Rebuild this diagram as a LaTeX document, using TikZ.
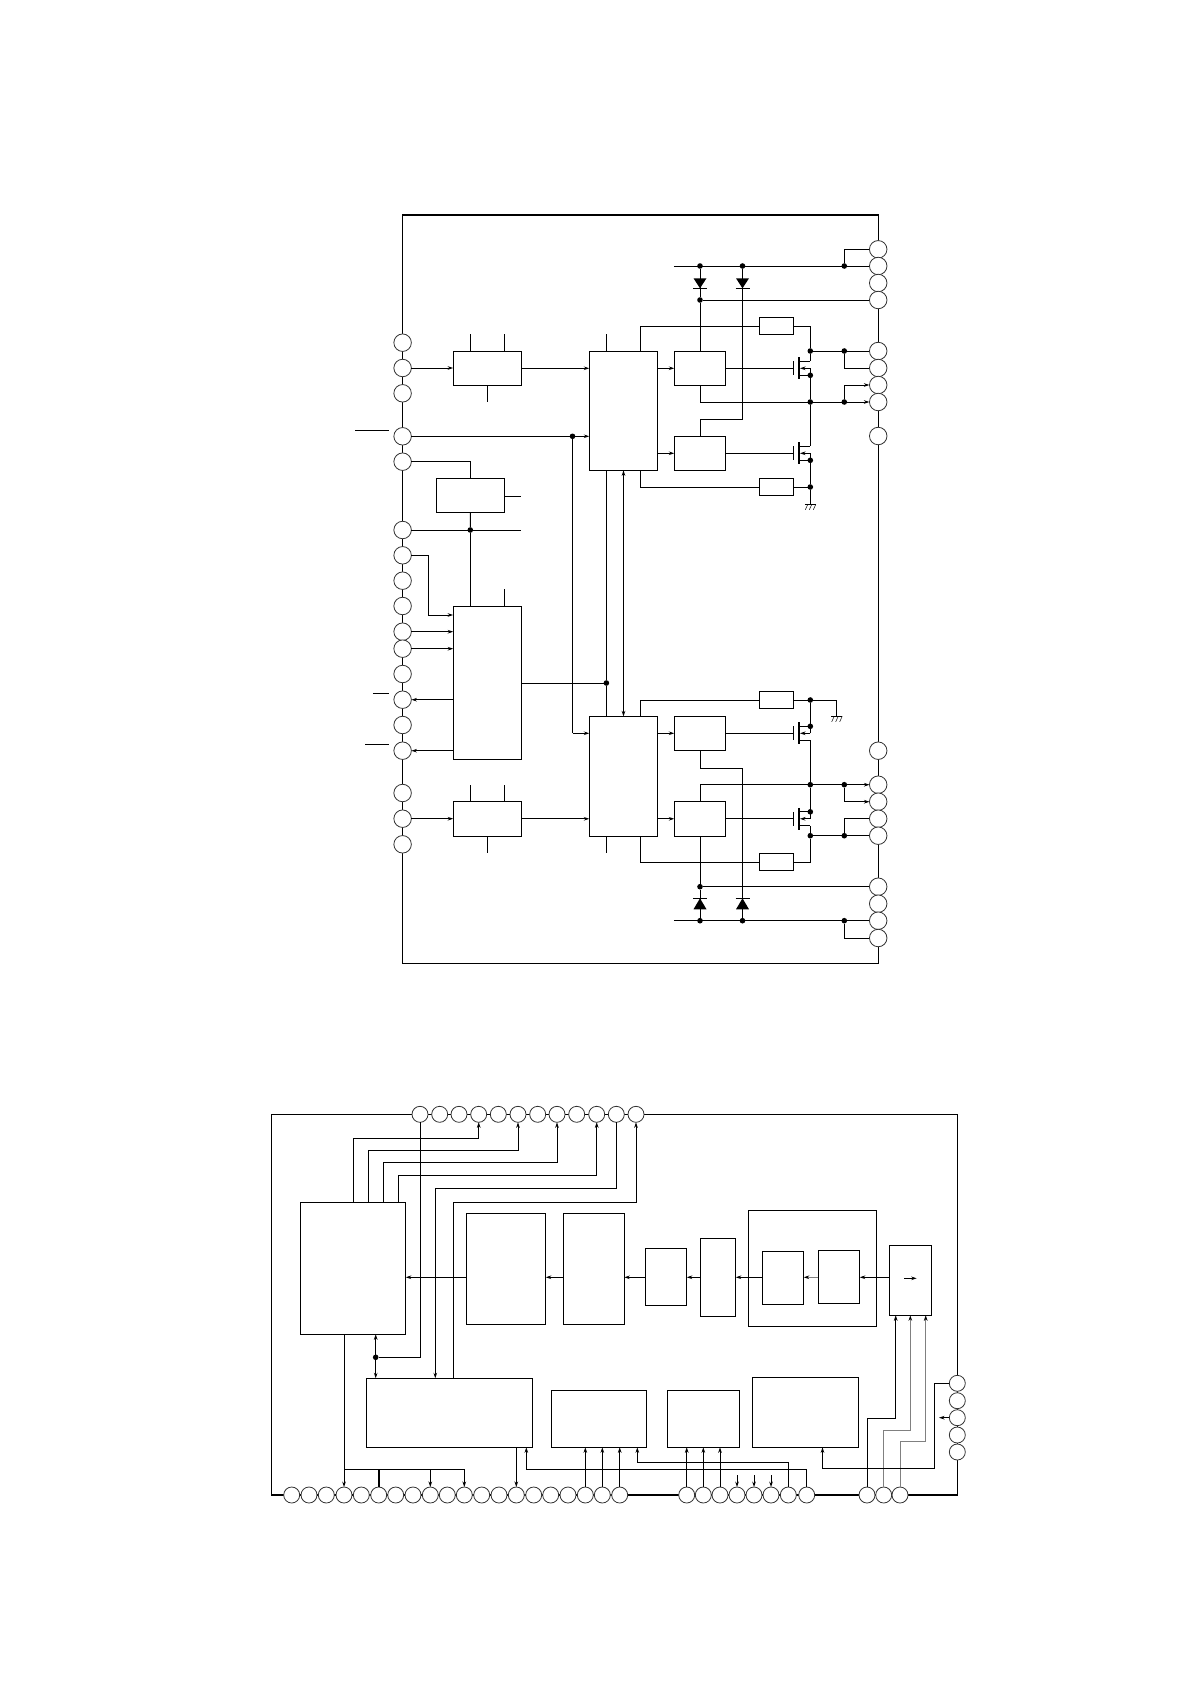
\documentclass[tikz,border=0pt]{standalone}
\usetikzlibrary{arrows.meta,calc}
\tikzset{
  x=1pt,y=-1pt,
  wire/.style={line width=1pt,draw=black},
  thinw/.style={line width=0.8pt,draw=black},
  gwire/.style={line width=1pt,draw=black!50},
  arr/.style={wire,-{Stealth[length=5.5pt,width=3.6pt]}},
  garr/.style={gwire,-{Stealth[length=5.5pt,width=3.6pt,black]}},
  darr/.style={wire,{Stealth[length=5.5pt,width=3.6pt]}-{Stealth[length=5.5pt,width=3.6pt]}},
  blk/.style={draw=black,line width=1pt,fill=white,rectangle,inner sep=0pt,outer sep=0pt},
  frm/.style={draw=black,line width=1pt,rectangle,inner sep=0pt,outer sep=0pt},
  pinA/.style={circle,draw=black!80,fill=white,line width=0.8pt,minimum size=17.5pt,inner sep=0pt,outer sep=0pt},
  pinB/.style={circle,draw=black!80,fill=white,line width=0.8pt,minimum size=16pt,inner sep=0pt,outer sep=0pt},
  jdot/.style={circle,fill=black,minimum size=5.6pt,inner sep=0pt,outer sep=0pt},
}
\newcommand{\bx}[5]{\node[blk,minimum width={(#4-#2)*1pt},minimum height={(#5-#3)*1pt}] (#1) at ({(#2+#4)/2},{(#3+#5)/2}) {};}
\newcommand{\jd}[3]{\node[jdot] (#1) at (#2,#3) {};}
\newcommand{\mosf}[3]{%
  \coordinate (#1t) at (810.3,{#2-7});
  \coordinate (#1b) at (810.3,{#2+7});
  \coordinate (#1g) at (793.3,#2);
  \draw[wire] (793.3,{#2-7}) -- (793.3,{#2+7});
  \draw[line width=1.8pt] (799,{#2-11}) -- (799,{#2+11});
  \draw[wire] (799,{#2-7}) -- (#1t);
  \draw[wire] (799,{#2+7}) -- (#1b);
  \draw[wire] (810.3,{#2+#3*7}) -- (810.3,#2);
  \draw[arr] (810.3,#2) -- (800,#2);
}
\newcommand{\gnd}[2]{%
  \draw[thinw] ({#1-5.5},#2) -- ({#1+5.5},#2);
  \foreach \k in {-4,0,4} \draw[line width=0.5pt] ({#1+\k+1.5},#2) -- ({#1+\k-1},{#2+5.5});
}
% x, top-of-triangle y, base y ; triangle points from first y to the second, bar at second
\newcommand{\diod}[3]{%
  \fill[black] ({#1-6.5},#2) -- ({#1+6.5},#2) -- (#1,#3) -- cycle;
  \draw[thinw] ({#1-7},#3) -- ({#1+7},#3);
}
\begin{document}
\begin{tikzpicture}
\useasboundingbox (0,0) rectangle (1190,1684);
\fill[white] (0,0) rectangle (1190,1684);

%===== upper diagram =====
\node[frm,minimum width=475.6pt,minimum height=748.5pt] (F1) at (640.4,589.05) {};
\draw[line width=2pt] (F1.north west) -- (F1.north east);

\foreach \y [count=\i] in {342.7,368,393.3,436.3,461.7,530,555.3,580.7,606,631.7,648.7,674,699.7,725,750.7,793,818.7,844.3}
  \node[pinA] (L\i) at (402.6,\y) {};
\foreach \y [count=\i] in {249.3,266,283,300,351,368,385,402,436,750.7,784.7,801.7,818.7,835.7,886.7,903.7,920.7,938}
  \node[pinA] (P\i) at (878.2,\y) {};

\bx{B1}{453.2}{351.3}{521.8}{385.3}
\bx{B2}{589.3}{351.3}{657.5}{470.3}
\bx{B3}{674.3}{351.3}{725.7}{385.3}
\bx{B4}{674.3}{436.3}{725.7}{470.3}
\bx{Ra}{759.2}{317.3}{793.5}{334.7}
\bx{Rb}{759.2}{478.3}{793.5}{495.7}
\bx{B5}{436.4}{478.3}{504.6}{512.7}
\bx{B6}{453.2}{606.3}{521.8}{759.3}
\bx{B7}{453.2}{801.3}{521.8}{836.3}
\bx{B8}{589.3}{716.3}{657.5}{836.3}
\bx{B9}{674.3}{716.3}{725.7}{750.3}
\bx{B10}{674.3}{801.3}{725.7}{836.3}
\bx{Rc}{759.2}{691.3}{793.5}{708.7}
\bx{Rd}{759.2}{853.3}{793.5}{870.7}

\jd{dA}{700}{266}
\jd{dB}{742.5}{266}
\jd{dC}{844.3}{266}
\jd{dD}{700}{300}
\jd{dE}{810.3}{351}
\jd{dF}{844.3}{351}
\jd{dG}{810.3}{375.3}
\jd{dH}{810.3}{402}
\jd{dI}{844.3}{402}
\jd{dJ}{810.3}{460.3}
\jd{dK}{810.3}{487}
\jd{dL}{572.5}{436.3}
\jd{dM}{470.3}{530}
\jd{dN}{606.4}{683}
\jd{dO}{810.3}{700}
\jd{dP}{810.3}{726.3}
\jd{dQ}{810.3}{784.7}
\jd{dR}{844.3}{784.7}
\jd{dS}{810.3}{811.8}
\jd{dT}{810.3}{835.7}
\jd{dU}{844.3}{835.7}
\jd{dV}{700}{886.7}
\jd{dW}{700}{920.7}
\jd{dX}{742.5}{920.7}
\jd{dY}{844.3}{920.7}

\mosf{Ma}{368.3}{1}
\mosf{Mb}{453.3}{1}
\mosf{Mc}{733.3}{-1}
\mosf{Md}{818.8}{-1}

% free ends
\coordinate (e1) at (673.9,266);
\coordinate (e2) at (673.9,920.7);
\coordinate (g1) at (810.3,504.3);
\coordinate (g2) at (836.7,716.3);
\coordinate (o1) at (355,430.3);  \coordinate (o1b) at (388.6,430.3);
\coordinate (o2) at (372.9,693.3);\coordinate (o2b) at (388.6,693.3);
\coordinate (o3) at (365,744.3);  \coordinate (o3b) at (388.6,744.3);

% overbars
\draw[wire] (o1) -- (o1b);
\draw[wire] (o2) -- (o2b);
\draw[wire] (o3) -- (o3b);

% stubs
\draw[wire] (470.3,334.3) -- (470.3,0 |- B1.north);
\draw[wire] (504.6,334.3) -- (504.6,0 |- B1.north);
\draw[wire] (B1.south) -- (487.5,402);
\draw[wire] (606.4,334.3) -- (606.4,0 |- B2.north);
\draw[wire] (504.6,589) -- (504.6,0 |- B6.north);
\draw[wire] (470.3,785) -- (470.3,0 |- B7.north);
\draw[wire] (504.6,785) -- (504.6,0 |- B7.north);
\draw[wire] (B7.south) -- (487.5,852.7);
\draw[wire] (606.4,0 |- B8.south) -- (606.4,852.7);

% signal path, upper half
\draw[arr] (L2.east) -- (L2.east -| B1.west);
\draw[arr] (B1.east) -- (B1.east -| B2.west);
\draw[arr] (B3.west -| B2.east) -- (B3.west);
\draw[arr] (B4.west -| B2.east) -- (B4.west);
\draw[arr] (L4.east) -- (L4.east -| B2.west);
\draw[wire] (B3.east) -- (Mag);
\draw[wire] (B4.east) -- (Mbg);

% supply and diodes
\draw[wire] (e1) -- (P2.west);
\draw[wire] (dC) |- (P1.west);
\draw[wire] (dD) -- (P4.west);
\draw[wire] (dA) -- (dD);
\draw[wire] (dD) -- (dD |- B3.north);
\diod{700}{278.3}{288.3}
\diod{742.5}{278.3}{288.3}
\draw[wire] (dB) -- (742.5,419.3) -| (B4.north);

% power stage
\draw[wire] (640.7,0 |- B2.north) |- (Ra.west);
\draw[wire] (Ra.east) -| (dE);
\draw[wire] (dE) -- (P5.west);
\draw[wire] (dE) -- (Mat);
\draw[wire] (dF) |- (P6.west);
\draw[wire] (Mab) -- (dG) -- (dH) -- (Mbt);
\draw[wire] (B3.south) |- (dH);
\draw[arr] (dH) -- (P8.west);
\draw[arr] (dI) |- (P7.west);
\draw[wire] (Mbb) -- (dJ) -- (dK) -- (g1);
\draw[wire] (640.7,0 |- B2.south) |- (Rb.west);
\draw[wire] (Rb.east) -- (dK);
\gnd{810.3}{504.3}

% B2 / B8 links
\draw[wire] (dL) -- (dL |- B9.west);
\draw[arr] (dL |- B9.west) -- (B9.west -| B8.west);
\draw[wire] (606.4,0 |- B2.south) -- (dN);
\draw[wire] (dN) -- (606.4,0 |- B8.north);
\draw[wire] (B6.east |- dN) -- (dN);
\draw[darr] (623.5,0 |- B2.south) -- (623.5,0 |- B8.north);

% regulator and controller
\draw[wire] (L5.east) -| (B5.north);
\draw[wire] (B5.east |- 0,496.3) -- (521,496.3);
\draw[wire] (L6.east) -- (521,530);
\draw[wire] (B5.south) -- (dM);
\draw[wire] (dM) -- (470.3,0 |- B6.north);
\draw[wire] (L7.east) -- (428.2,555.3);
\draw[arr] (428.2,555.3) |- (B6.west |- 0,615);
\draw[arr] (L10.east) -- (L10.east -| B6.west);
\draw[arr] (L11.east) -- (L11.east -| B6.west);
\draw[arr] (L13.east -| B6.west) -- (L13.east);
\draw[arr] (L15.east -| B6.west) -- (L15.east);

% lower half
\draw[arr] (L17.east) -- (L17.east -| B7.west);
\draw[arr] (B7.east) -- (B7.east -| B8.west);
\draw[arr] (B9.west -| B8.east) -- (B9.west);
\draw[arr] (B10.west -| B8.east) -- (B10.west);
\draw[wire] (B9.east) -- (Mcg);
\draw[wire] (B10.east) -- (Mdg);
\draw[wire] (640.7,0 |- B8.north) |- (Rc.west);
\draw[wire] (Rc.east) -- (dO);
\draw[wire] (dO) -| (g2);
\gnd{836.7}{716.3}
\draw[wire] (dO) -- (Mct);
\draw[wire] (Mcb) -- (dQ) -- (Mdt);
\draw[wire] (Mdb) -- (dT) |- (Rd.east);
\draw[wire] (640.7,0 |- B8.south) |- (Rd.west);
\draw[wire] (B10.north) |- (dQ);
\draw[arr] (dQ) -- (P11.west);
\draw[arr] (dR) |- (P12.west);
\draw[wire] (dT) -- (P14.west);
\draw[wire] (dU) |- (P13.west);
\draw[wire] (B9.south) |- (742.5,768.3) -- (742.5,898.3);
\draw[wire] (B10.south) -- (dV);
\draw[wire] (dV) -- (P15.west);
\draw[wire] (dV) -- (dW);
\draw[wire] (dX) -- (742.5,898.3);
\diod{700}{909.3}{898.3}
\diod{742.5}{909.3}{898.3}
\draw[wire] (e2) -- (P17.west);
\draw[wire] (dY) |- (P18.west);

%===== lower diagram =====
\node[frm,minimum width=685.6pt,minimum height=380.7pt] (F2) at (614.5,1304.65) {};
\draw[line width=2pt] (F2.south west) -- (F2.south east);

\foreach \x [count=\i] in {420,439.7,459,478.7,498.3,518,537.7,557,576.7,596.7,616.3,636}
  \node[pinB] (T\i) at (\x,1114.3) {};
\foreach \x [count=\i] in {291.7,309,326.3,344,361.3,378.7,395.7,413,430.3,447.3,464.3,481.7,499,516.3,533.7,550.7,568,585.3,602.3,619.7,686.7,703.3,720,737,754,771,788.3,806.7,867,883.7,900}
  \node[pinB] (Q\i) at (\x,1495) {};
\foreach \y [count=\i] in {1383.3,1400.7,1417.7,1435,1452}
  \node[pinB] (S\i) at (957.3,\y) {};

\bx{A}{300.3}{1202.3}{405.7}{1334.3}
\bx{C}{466.3}{1213.3}{545.7}{1324.3}
\bx{D}{563.3}{1213.3}{624.3}{1324.3}
\bx{E}{645.3}{1248.3}{686.7}{1305.3}
\bx{Fb}{700.3}{1238.3}{735.7}{1316.3}
\bx{G}{748.3}{1210.3}{876.7}{1326.3}
\bx{H}{762.3}{1251.3}{803.7}{1304.3}
\bx{I}{818.3}{1250.3}{859.7}{1303.3}
\bx{J}{889.3}{1245.3}{931.7}{1315.3}
\bx{K}{366.3}{1378.3}{532.3}{1447.3}
\bx{Lb}{551.3}{1390.3}{646.7}{1447.3}
\bx{M}{667.3}{1390.3}{739.7}{1447.3}
\bx{N}{752.3}{1377.3}{858.7}{1447.3}

\jd{dZ}{375.7}{1357.3}
\coordinate (sig) at (0,1277.3);
\coordinate (bus) at (0,1469.3);

% signal chain
\draw[arr] (J.west |- sig) -- (I.east |- sig);
\draw[garr] (I.west |- sig) -- (H.east |- sig);
\draw[arr] (H.west |- sig) -- (Fb.east |- sig);
\draw[arr] (Fb.west |- sig) -- (E.east |- sig);
\draw[arr] (E.west |- sig) -- (D.east |- sig);
\draw[arr] (D.west |- sig) -- (C.east |- sig);
\draw[arr] (C.west |- sig) -- (A.east |- sig);
\coordinate (ja) at (904,1278.3);
\coordinate (jb) at (916.7,1278.3);
\draw[arr] (ja) -- (jb);

% top pin routes
\draw[wire] (T1.south) |- (dZ);
\draw[arr] (353.3,0 |- A.north) -- (353.3,1138.3) -| (T4.south);
\draw[arr] (368.3,0 |- A.north) -- (368.3,1150.7) -| (T6.south);
\draw[arr] (383.3,0 |- A.north) -- (383.3,1162.3) -| (T8.south);
\draw[arr] (398.3,0 |- A.north) -- (398.3,1175.3) -| (T10.south);
\draw[arr] (T11.south) |- (435.3,1188.3) -- (435.3,0 |- K.north);
\draw[arr] (453.3,0 |- K.north) -- (453.3,1202.3) -| (T12.south);
\draw[arr] (dZ) -- (dZ |- A.south);
\draw[arr] (dZ) -- (dZ |- K.north);

% bottom routes
\draw[arr] (Q4.north |- A.south) -- (Q4.north);
\draw[wire] (Q4.north |- bus) -- (Q11.north |- bus);
\draw[line width=1.7pt] (Q6.north |- bus) -- (Q6.north);
\draw[arr] (Q9.north |- bus) -- (Q9.north);
\draw[arr] (Q11.north |- bus) -- (Q11.north);
\draw[arr] (Q14.north |- K.south) -- (Q14.north);
\draw[arr] (Q28.north) |- (526.3,1469.3) -- (526.3,0 |- K.south);
\draw[arr] (Q27.north) |- (637.3,1462.7) -- (637.3,0 |- Lb.south);
\draw[arr] (Q18.north) -- (Q18.north |- Lb.south);
\draw[arr] (Q19.north) -- (Q19.north |- Lb.south);
\draw[arr] (Q20.north) -- (Q20.north |- Lb.south);
\draw[arr] (Q21.north) -- (Q21.north |- M.south);
\draw[arr] (Q22.north) -- (Q22.north |- M.south);
\draw[arr] (Q23.north) -- (Q23.north |- M.south);
\coordinate (u1) at (737,1475);
\coordinate (u2) at (754,1475);
\coordinate (u3) at (771,1475);
\draw[arr] (u1) -- (Q24.north);
\draw[arr] (u2) -- (Q25.north);
\draw[arr] (u3) -- (Q26.north);
\draw[arr] (Q29.north) |- (895.7,1418.3) -- (895.7,0 |- J.south);
\draw[garr] (Q30.north) |- (910.3,1430.3) -- (910.3,0 |- J.south);
\draw[garr] (Q31.north) |- (925.7,1441.3) -- (925.7,0 |- J.south);
\draw[arr] (S1.west) -- (934.5,1383.3) |- (822.5,1468.3) -- (822.5,0 |- N.south);
\coordinate (s3e) at (939,1417.7);
\draw[arr] (S3.west) -- (s3e);
\end{tikzpicture}
\end{document}
